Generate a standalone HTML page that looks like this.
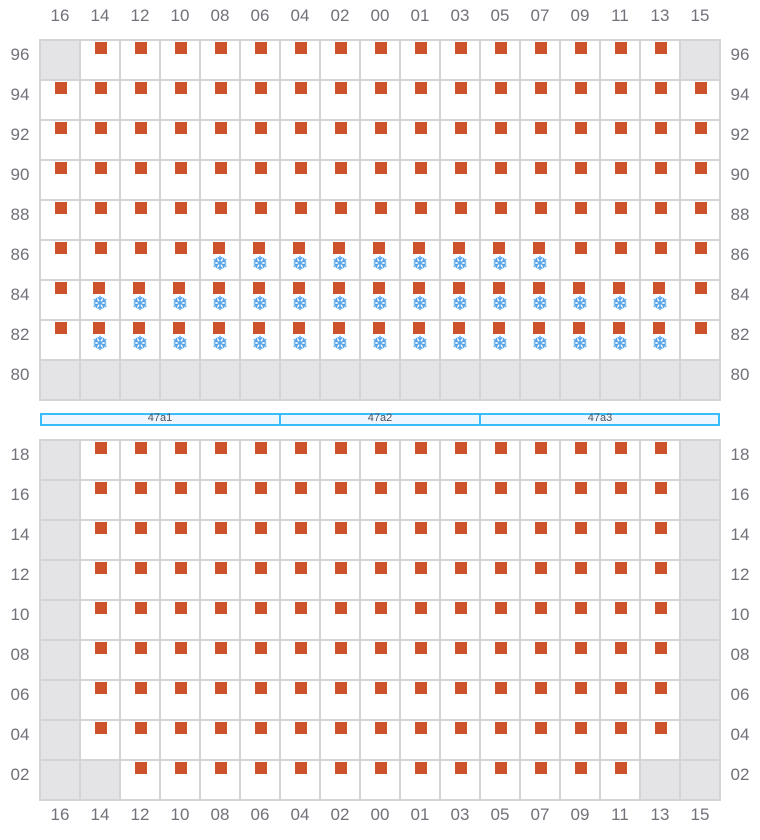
<!DOCTYPE html>
<html>
<head>
<meta charset="utf-8">
<style>
  html, body { margin: 0; padding: 0; background: #ffffff; }
  svg { display: block; }
  .lbl { font-family: "Liberation Sans", sans-serif; font-size: 17px; fill: #71717a; text-anchor: middle; }
  .band { font-family: "Liberation Sans", sans-serif; font-size: 11px; fill: #52525b; text-anchor: middle; }
</style>
</head>
<body>
<svg width="760" height="840" viewBox="0 0 760 840" xmlns="http://www.w3.org/2000/svg">
  <defs>
    <pattern id="sq" patternUnits="userSpaceOnUse" x="0" y="0" width="40" height="40">
      <rect x="15" y="2" width="12" height="12" fill="#cd522b"/>
    </pattern>
    <g id="flake" fill="none" stroke="#52a2e8" stroke-width="1.4" stroke-linecap="round">
      <g>
        <path d="M20 16.3 V29.7"/>
        <path d="M18 17.6 L20 19.6 L22 17.6"/>
        <path d="M18 28.4 L20 26.4 L22 28.4"/>
      </g>
      <g transform="rotate(60 20 23)">
        <path d="M20 16.3 V29.7"/>
        <path d="M18 17.6 L20 19.6 L22 17.6"/>
        <path d="M18 28.4 L20 26.4 L22 28.4"/>
      </g>
      <g transform="rotate(120 20 23)">
        <path d="M20 16.3 V29.7"/>
        <path d="M18 17.6 L20 19.6 L22 17.6"/>
        <path d="M18 28.4 L20 26.4 L22 28.4"/>
      </g>
    </g>
    <pattern id="sn" patternUnits="userSpaceOnUse" x="0" y="0" width="40" height="40">
      <rect x="13" y="2" width="12" height="12" fill="#cd522b"/>
      <use href="#flake"/>
    </pattern>
  </defs>

  <!-- ===== TOP SECTION ===== -->
  <!-- gray cells -->
  <rect x="40" y="40" width="40" height="40" fill="#e4e4e7"/>
  <rect x="680" y="40" width="40" height="40" fill="#e4e4e7"/>
  <rect x="40" y="360" width="680" height="40" fill="#e4e4e7"/>

  <!-- squares -->
  <rect x="80" y="40" width="600" height="40" fill="url(#sq)"/>
  <rect x="40" y="80" width="680" height="160" fill="url(#sq)"/>
  <rect x="40" y="240" width="160" height="40" fill="url(#sq)"/>
  <rect x="200" y="240" width="360" height="40" fill="url(#sn)"/>
  <rect x="560" y="240" width="160" height="40" fill="url(#sq)"/>
  <rect x="40" y="280" width="40" height="80" fill="url(#sq)"/>
  <rect x="80" y="280" width="600" height="80" fill="url(#sn)"/>
  <rect x="680" y="280" width="40" height="80" fill="url(#sq)"/>

  <!-- grid lines top -->
  <g stroke="#d4d4d8" stroke-width="2" stroke-linecap="square">
    <path d="M40 40V400 M80 40V400 M120 40V400 M160 40V400 M200 40V400 M240 40V400 M280 40V400 M320 40V400 M360 40V400 M400 40V400 M440 40V400 M480 40V400 M520 40V400 M560 40V400 M600 40V400 M640 40V400 M680 40V400 M720 40V400"/>
    <path d="M40 40H720 M40 80H720 M40 120H720 M40 160H720 M40 200H720 M40 240H720 M40 280H720 M40 320H720 M40 360H720 M40 400H720"/>
  </g>

  <!-- ===== BAND ===== -->
  <rect x="41" y="414" width="678" height="11" fill="#eef7ff" stroke="#38bdf8" stroke-width="2"/>
  <path d="M280 414V425 M480 414V425" stroke="#38bdf8" stroke-width="2"/>
  <text class="band" x="160" y="421">47a1</text>
  <text class="band" x="380" y="421">47a2</text>
  <text class="band" x="600" y="421">47a3</text>

  <!-- ===== BOTTOM SECTION ===== -->
  <rect x="40" y="440" width="40" height="360" fill="#e4e4e7"/>
  <rect x="680" y="440" width="40" height="360" fill="#e4e4e7"/>
  <rect x="80" y="760" width="40" height="40" fill="#e4e4e7"/>
  <rect x="640" y="760" width="40" height="40" fill="#e4e4e7"/>

  <rect x="80" y="440" width="600" height="320" fill="url(#sq)"/>
  <rect x="120" y="760" width="520" height="40" fill="url(#sq)"/>

  <g stroke="#d4d4d8" stroke-width="2" stroke-linecap="square">
    <path d="M40 440V800 M80 440V800 M120 440V800 M160 440V800 M200 440V800 M240 440V800 M280 440V800 M320 440V800 M360 440V800 M400 440V800 M440 440V800 M480 440V800 M520 440V800 M560 440V800 M600 440V800 M640 440V800 M680 440V800 M720 440V800"/>
    <path d="M40 440H720 M40 480H720 M40 520H720 M40 560H720 M40 600H720 M40 640H720 M40 680H720 M40 720H720 M40 760H720 M40 800H720"/>
  </g>

  <!-- ===== COLUMN LABELS ===== -->
  <g class="lbl">
    <text x="60" y="21">16</text><text x="100" y="21">14</text><text x="140" y="21">12</text><text x="180" y="21">10</text>
    <text x="220" y="21">08</text><text x="260" y="21">06</text><text x="300" y="21">04</text><text x="340" y="21">02</text>
    <text x="380" y="21">00</text><text x="420" y="21">01</text><text x="460" y="21">03</text><text x="500" y="21">05</text>
    <text x="540" y="21">07</text><text x="580" y="21">09</text><text x="620" y="21">11</text><text x="660" y="21">13</text>
    <text x="700" y="21">15</text>

    <text x="60" y="820">16</text><text x="100" y="820">14</text><text x="140" y="820">12</text><text x="180" y="820">10</text>
    <text x="220" y="820">08</text><text x="260" y="820">06</text><text x="300" y="820">04</text><text x="340" y="820">02</text>
    <text x="380" y="820">00</text><text x="420" y="820">01</text><text x="460" y="820">03</text><text x="500" y="820">05</text>
    <text x="540" y="820">07</text><text x="580" y="820">09</text><text x="620" y="820">11</text><text x="660" y="820">13</text>
    <text x="700" y="820">15</text>
  </g>

  <!-- ===== ROW LABELS ===== -->
  <g class="lbl">
    <text x="20" y="60">96</text><text x="740" y="60">96</text>
    <text x="20" y="100">94</text><text x="740" y="100">94</text>
    <text x="20" y="140">92</text><text x="740" y="140">92</text>
    <text x="20" y="180">90</text><text x="740" y="180">90</text>
    <text x="20" y="220">88</text><text x="740" y="220">88</text>
    <text x="20" y="260">86</text><text x="740" y="260">86</text>
    <text x="20" y="300">84</text><text x="740" y="300">84</text>
    <text x="20" y="340">82</text><text x="740" y="340">82</text>
    <text x="20" y="380">80</text><text x="740" y="380">80</text>

    <text x="20" y="460">18</text><text x="740" y="460">18</text>
    <text x="20" y="500">16</text><text x="740" y="500">16</text>
    <text x="20" y="540">14</text><text x="740" y="540">14</text>
    <text x="20" y="580">12</text><text x="740" y="580">12</text>
    <text x="20" y="620">10</text><text x="740" y="620">10</text>
    <text x="20" y="660">08</text><text x="740" y="660">08</text>
    <text x="20" y="700">06</text><text x="740" y="700">06</text>
    <text x="20" y="740">04</text><text x="740" y="740">04</text>
    <text x="20" y="780">02</text><text x="740" y="780">02</text>
  </g>
</svg>
</body>
</html>
